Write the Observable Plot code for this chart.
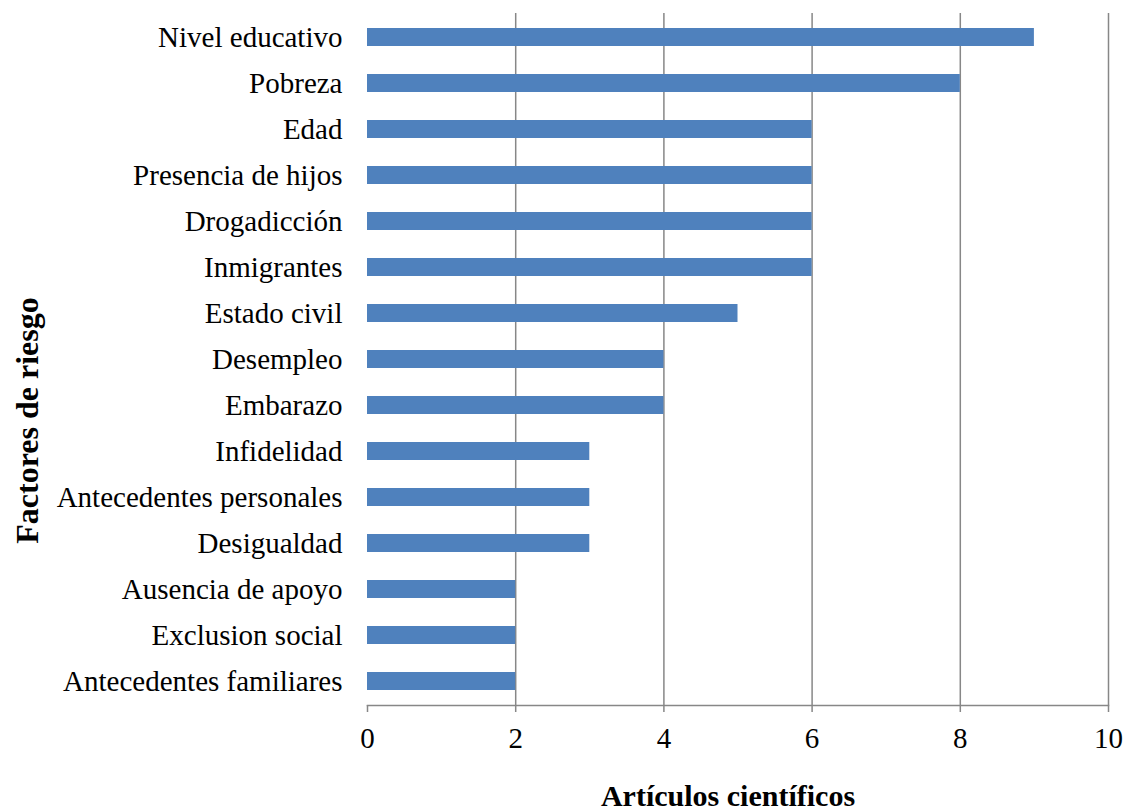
<!DOCTYPE html>
<html>
<head>
<meta charset="utf-8">
<script src="https://cdn.jsdelivr.net/npm/d3@7"></script>
<script src="https://cdn.jsdelivr.net/npm/@observablehq/plot@0.6"></script>
<style>
  html, body { margin: 0; padding: 0; background: white; }
</style>
</head>
<body>
<div id="chart"></div>
<script>
const factores = [
  "Nivel educativo",
  "Pobreza",
  "Edad",
  "Presencia de hijos",
  "Drogadicción",
  "Inmigrantes",
  "Estado civil",
  "Desempleo",
  "Embarazo",
  "Infidelidad",
  "Antecedentes personales",
  "Desigualdad",
  "Ausencia de apoyo",
  "Exclusion social",
  "Antecedentes familiares"
];
const articulos = [9, 8, 6, 6, 6, 6, 5, 4, 4, 3, 3, 3, 2, 2, 2];
const xTicks = [0, 2, 4, 6, 8, 10];
const gridValues = [2, 4, 6, 8, 10];
const xTitle = "Artículos científicos";
const yTitle = "Factores de riesgo";

const data = factores.map((f, i) => ({factor: f, valor: articulos[i]}));

const chart = Plot.plot({
  width: 1127,
  height: 811,
  marginLeft: 367,
  marginRight: 19,
  marginTop: 13,
  marginBottom: 106,
  style: {
    fontFamily: "'Liberation Serif', 'Times New Roman', serif",
    fontSize: "29px",
    color: "black",
    background: "white"
  },
  x: {domain: [0, 10]},
  y: {domain: factores, paddingInner: 0.6, paddingOuter: 0.3},
  marks: [
    Plot.ruleX(gridValues, {stroke: "#878787", strokeWidth: 1.5}),
    Plot.barX(data, {x: "valor", y: "factor", fill: "#4F81BD"}),
    Plot.frame({anchor: "bottom", stroke: "#878787", strokeWidth: 1.5}),
    Plot.axisX({ticks: xTicks, tickSize: 7, tickPadding: 15, stroke: "#878787", strokeWidth: 1.5, label: null, fontSize: 29}),
    Plot.axisY({tickSize: 0, tickPadding: 25, label: null, fontSize: 29}),
    Plot.text([xTitle], {text: d => d, frameAnchor: "bottom", dy: 91, dx: -10, fontWeight: "bold", fontSize: 30, lineAnchor: "middle"}),
    Plot.text([yTitle], {text: d => d, frameAnchor: "left", textAnchor: "middle", rotate: -90, dx: -340, dy: 61, fontWeight: "bold", fontSize: 32, lineAnchor: "middle"})
  ]
});
document.getElementById("chart").appendChild(chart);
</script>
</body>
</html>
